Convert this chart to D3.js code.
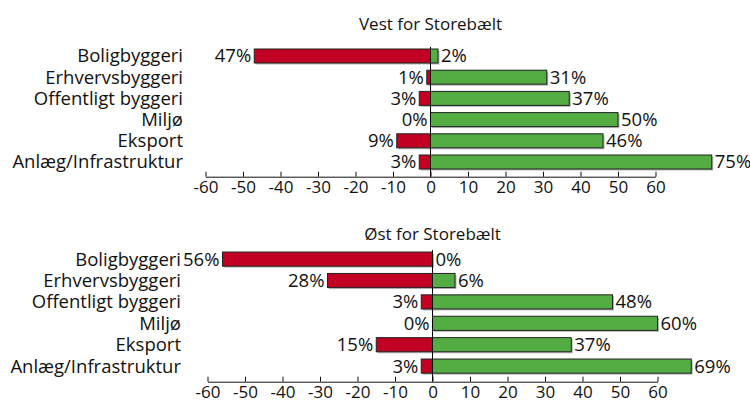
<!DOCTYPE html>
<html>
<head>
<meta charset="utf-8">
<script src="https://cdn.jsdelivr.net/npm/d3@7"></script>
<style>
  html, body { margin: 0; padding: 0; background: #fff; }
  svg { display: block; }
  text { font-family: "Open Sans", "Noto Sans", sans-serif; fill: #111; }
</style>
</head>
<body>
<svg id="chart" width="750" height="403"></svg>
<script>
const categories = ["Boligbyggeri", "Erhvervsbyggeri", "Offentligt byggeri", "Miljø", "Eksport", "Anlæg/Infrastruktur"];
const vestNegative = [47, 1, 3, 0, 9, 3];
const vestPositive = [2, 31, 37, 50, 46, 75];
const ostNegative = [56, 28, 3, 0, 15, 3];
const ostPositive = [0, 6, 48, 60, 37, 69];
const tickValues = [-60, -50, -40, -30, -20, -10, 0, 10, 20, 30, 40, 50, 60];
const titles = ["Vest for Storebælt", "Øst for Storebælt"];

const svg = d3.select("#chart");
const RED = "#c10023", GREEN = "#53ad43";

function panel(cfg, title, neg, pos) {
  const g = svg.append("g");
  const x = d3.scaleLinear().domain([-60, 60]).range([cfg.x0, cfg.x1]);
  const y = d3.scaleBand().domain(categories)
    .range([cfg.y0, cfg.y0 + 6 * cfg.step]).paddingInner(0.34).paddingOuter(0.17);
  const rows = categories.map((c, i) => ({ c, neg: neg[i], pos: pos[i] }));

  g.append("text").attr("x", x(0)).attr("y", cfg.titleY)
    .attr("text-anchor", "middle").attr("font-size", 17).text(title);

  // category labels
  g.selectAll(".cat").data(rows).join("text")
    .attr("x", cfg.labelX).attr("y", d => y(d.c) + y.bandwidth() / 2)
    .attr("dy", "0.35em").attr("text-anchor", "end").attr("font-size", 18.5)
    .text(d => d.c);

  // shadows
  const shadow = (sel, x0f, x1f) => sel
    .attr("x", d => Math.min(x0f(d), x1f(d)) + 1.5).attr("y", d => y(d.c) + 1.5)
    .attr("width", d => Math.abs(x1f(d) - x0f(d))).attr("height", y.bandwidth())
    .attr("fill", "#b5b5b5");
  g.selectAll(".sn").data(rows.filter(d => d.neg > 0)).join("rect")
    .call(shadow, d => x(-d.neg), d => x(0));
  g.selectAll(".sp").data(rows.filter(d => d.pos > 0)).join("rect")
    .call(shadow, d => x(0), d => x(d.pos));

  // bars
  g.selectAll(".neg").data(rows.filter(d => d.neg > 0)).join("rect")
    .attr("x", d => x(-d.neg)).attr("y", d => y(d.c))
    .attr("width", d => x(0) - x(-d.neg)).attr("height", y.bandwidth())
    .attr("fill", RED).attr("stroke", "#222").attr("stroke-width", 1);
  g.selectAll(".pos").data(rows.filter(d => d.pos > 0)).join("rect")
    .attr("x", x(0)).attr("y", d => y(d.c))
    .attr("width", d => x(d.pos) - x(0)).attr("height", y.bandwidth())
    .attr("fill", GREEN).attr("stroke", "#222").attr("stroke-width", 1);

  // value labels
  g.selectAll(".nl").data(rows).join("text")
    .attr("x", d => x(-d.neg) - 3).attr("y", d => y(d.c) + y.bandwidth() / 2)
    .attr("dy", "0.35em").attr("text-anchor", "end").attr("font-size", 18.5)
    .text(d => d.neg + "%");
  g.selectAll(".pl").data(rows).join("text")
    .attr("x", d => x(d.pos) + 3).attr("y", d => y(d.c) + y.bandwidth() / 2)
    .attr("dy", "0.35em").attr("text-anchor", "start").attr("font-size", 18.5)
    .text(d => d.pos + "%");

  // axis
  const ax = g.append("g").attr("transform", `translate(0,${cfg.axisY})`)
    .call(d3.axisBottom(x).tickValues(tickValues).tickSizeInner(-5).tickSizeOuter(0)
      .tickPadding(cfg.tickPad).tickFormat(d => String(d)));
  ax.select(".domain").attr("stroke", "#111");
  ax.selectAll(".tick line").attr("stroke", "#111");
  ax.selectAll("text").attr("font-size", 17).attr("font-family", '"Open Sans", sans-serif').attr("fill", "#111");

  // zero line
  g.append("line").attr("x1", x(0)).attr("x2", x(0))
    .attr("y1", y(categories[0]) - 2).attr("y2", cfg.axisY)
    .attr("stroke", "#000").attr("stroke-width", 1);
}

panel({ x0: 205.5, x1: 655.5, y0: 45.4, step: 21.2, axisY: 176.7, titleY: 29.5, labelX: 183, tickPad: 4 },
  titles[0], vestNegative, vestPositive);
panel({ x0: 207.5, x1: 657.5, y0: 248.4, step: 21.4, axisY: 381.7, titleY: 239.5, labelX: 181, tickPad: 4 },
  titles[1], ostNegative, ostPositive);
</script>
</body>
</html>
